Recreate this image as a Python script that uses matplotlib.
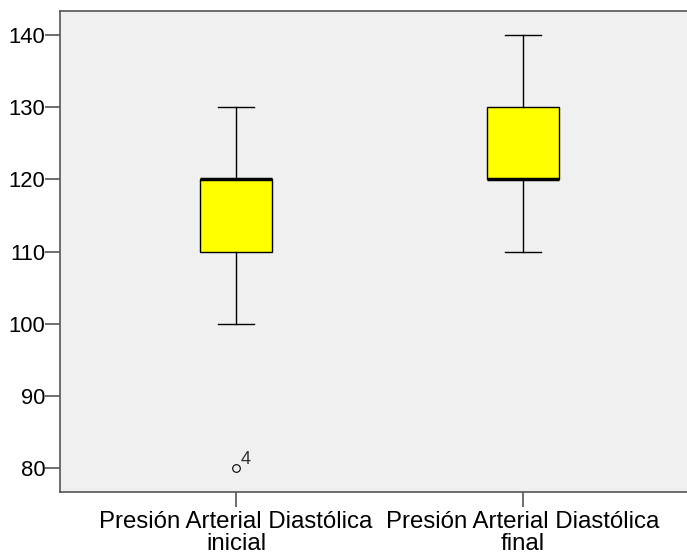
import matplotlib
matplotlib.use("Agg")
import matplotlib.pyplot as plt

categories = ["Presión Arterial Diastólica\ninicial", "Presión Arterial Diastólica\nfinal"]
whislo = [100, 110]
q1 = [110, 120]
med = [120, 120]
q3 = [120, 130]
whishi = [130, 140]
outliers = [[80], []]
outlier_labels = [["4"], []]
yticks = [80, 90, 100, 110, 120, 130, 140]

plt.rcParams['font.family'] = ['Liberation Sans', 'DejaVu Sans']
fig = plt.figure(figsize=(6.87, 5.58), dpi=100)
ax = fig.add_axes([60/687, (558-492)/558, 1 - 60/687, (492-11)/558])
ax.set_facecolor('#F0F0F0')

stats = []
for i in range(len(categories)):
    stats.append(dict(whislo=whislo[i], q1=q1[i], med=med[i], q3=q3[i],
                      whishi=whishi[i], fliers=outliers[i], label=categories[i]))
ax.bxp(stats, positions=[1, 2], widths=0.25, patch_artist=True,
       boxprops=dict(facecolor='#FFFF00', edgecolor='black', linewidth=1),
       medianprops=dict(color='black', linewidth=2.5),
       whiskerprops=dict(color='black', linewidth=1),
       capprops=dict(color='black', linewidth=1),
       capwidths=0.125,
       flierprops=dict(marker='o', markerfacecolor='none', markeredgecolor='black',
                       markersize=5.5, markeredgewidth=0.8))
for i, (vals, labs) in enumerate(zip(outliers, outlier_labels)):
    for v, l in zip(vals, labs):
        ax.annotate(l, (i + 1, v), xytext=(3, 0), textcoords='offset points',
                    fontsize=13, color='#333333', va='bottom', ha='left')

ax.set_xlim(0.387, 2.571)
ax.set_ylim(76.7, 143.3)
ax.set_yticks(yticks)
ax.set_xticks([1, 2])
ax.set_xticklabels(categories, fontsize=17.3, linespacing=1.0)
ax.tick_params(axis='y', labelsize=15.8, length=10.5, color='#555555', width=1.2, pad=0)
ax.tick_params(axis='x', length=10.5, color='#555555', width=1.2, pad=3.5)
for s in ['left', 'bottom', 'top']:
    ax.spines[s].set_color('#555555')
    ax.spines[s].set_linewidth(1.2)
ax.spines['right'].set_visible(False)
fig.savefig('out.png', dpi=100)
